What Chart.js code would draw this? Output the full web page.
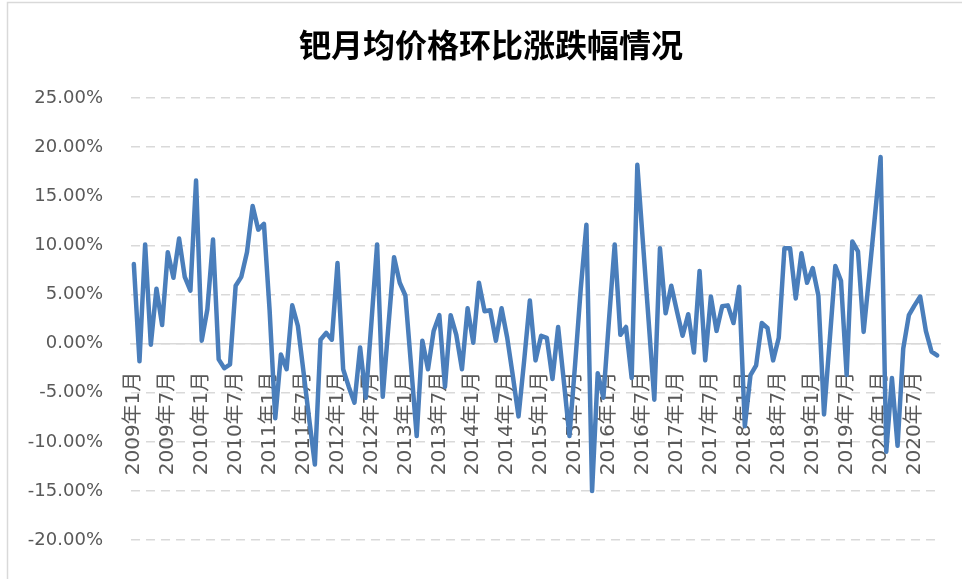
<!DOCTYPE html>
<html lang="zh">

<head>
    <meta charset="UTF-8">
    <title>钯月均价格环比涨跌幅情况</title>
    <script src="https://cdn.jsdelivr.net/npm/chart.js"></script>
    <style>
        body { margin: 0; background: #fff; }
        #wrap { width: 962px; height: 579px; }
    </style>
</head>

<body>
    <div id="wrap">
        <canvas id="myChart" width="962" height="579"></canvas>
    </div>

    <script>
        // 月环比涨跌幅 (%), 每年一组, 2009年1月 - 2020年11月
        const v2009 = [8.1, -1.8, 10.1, -0.1, 5.6, 1.9, 9.3, 6.7, 10.7, 6.8, 5.4, 16.6];
        const v2010 = [0.3, 3.5, 10.6, -1.6, -2.5, -2.1, 5.9, 6.8, 9.3, 14.0, 11.6, 12.2];
        const v2011 = [3.4, -7.6, -1.1, -2.6, 3.9, 1.8, -2.9, -7.7, -12.3, 0.4, 1.1, 0.4];
        const v2012 = [8.2, -2.6, -4.4, -6.0, -0.4, -5.5, 2.2, 10.1, -5.4, 1.8, 8.8, 6.2];
        const v2013 = [4.9, -2.2, -9.4, 0.3, -2.6, 1.3, 2.9, -4.4, 2.9, 0.9, -2.6, 3.6];
        const v2014 = [0.1, 6.2, 3.3, 3.4, 0.3, 3.6, 0.6, -3.3, -7.4, -1.7, 4.4, -1.7];
        const v2015 = [0.8, 0.6, -3.6, 1.7, -3.8, -9.4, -2.1, 5.6, 12.1, -15.0, -3.0, -5.5];
        const v2016 = [2.5, 10.1, 0.9, 1.7, -3.5, 18.2, 10.2, 2.3, -5.7, 9.7, 3.1, 5.9];
        const v2017 = [3.3, 0.8, 3.0, -0.9, 7.4, -1.7, 4.8, 1.3, 3.8, 3.9, 2.1, 5.8];
        const v2018 = [-8.4, -3.2, -2.2, 2.1, 1.6, -1.7, 0.6, 9.7, 9.7, 4.6, 9.2, 6.2];
        const v2019 = [7.7, 4.9, -7.2, 0.3, 7.9, 6.4, -3.2, 10.4, 9.4, 1.2, 7.0, 13.0];
        const v2020 = [19.0, -11.0, -3.5, -10.4, -0.5, 2.9, 3.9, 4.8, 1.3, -0.8, -1.2];

        const years = [2009, 2010, 2011, 2012, 2013, 2014, 2015, 2016, 2017, 2018, 2019, 2020];
        const yearValues = [v2009, v2010, v2011, v2012, v2013, v2014, v2015, v2016, v2017, v2018, v2019, v2020];

        const titleText = '钯月均价格环比涨跌幅情况';

        // category labels: 2009年1月 ...
        const labels = [];
        const values = [];
        years.forEach((y, k) => {
            yearValues[k].forEach((v, m) => {
                labels.push(y + '年' + (m + 1) + '月');
                values.push(v);
            });
        });

        const yTicks = { min: -20, max: 25, step: 5 };

        // white background, light frame and the title (centred like the original)
        const frame = {
            id: 'frame',
            beforeDraw(chart) {
                const ctx = chart.ctx;
                ctx.save();
                ctx.fillStyle = '#fff';
                ctx.fillRect(0, 0, chart.width, chart.height);
                ctx.strokeStyle = '#d9d9d9';
                ctx.lineWidth = 1.5;
                ctx.strokeRect(7.5, 2.5, chart.width + 10, chart.height + 10);

                ctx.fillStyle = '#000';
                ctx.font = 'bold 32px "Noto Sans CJK SC"';
                ctx.textAlign = 'center';
                ctx.textBaseline = 'middle';
                ctx.fillText(titleText, 491, 45);
                ctx.restore();
            }
        };

        new Chart(document.getElementById('myChart'), {
            type: 'line',
            data: {
                labels: labels,
                datasets: [{
                    data: values,
                    borderColor: '#4a7ebb',
                    borderWidth: 4.5,
                    borderJoinStyle: 'round',
                    borderCapStyle: 'round',
                    pointRadius: 0,
                    tension: 0,
                    fill: false
                }]
            },
            options: {
                responsive: false,
                animation: false,
                layout: {
                    padding: { top: 98, left: 0, right: 22, bottom: 29 }
                },
                plugins: {
                    legend: { display: false },
                    tooltip: { enabled: false },
                    title: { display: false }
                },
                scales: {
                    x: {
                        type: 'category',
                        offset: true,
                        position: { y: 0 },
                        afterFit: function (scale) {
                            scale.paddingLeft = 0;
                            scale.paddingRight = 0;
                        },
                        grid: { display: false, drawTicks: false },
                        border: { display: true, color: '#d9d9d9', width: 1.5 },
                        ticks: {
                            autoSkip: false,
                            maxRotation: 90,
                            minRotation: 90,
                            padding: 28,
                            color: '#595959',
                            font: { family: '"DejaVu Sans", "Noto Sans CJK SC"', size: 20 },
                            callback: function (val, i) {
                                return i % 6 === 0 ? labels[i] : '';
                            }
                        }
                    },
                    y: {
                        min: yTicks.min,
                        max: yTicks.max,
                        afterFit: function (scale) { scale.width = 131; },
                        grid: { color: '#d9d9d9', lineWidth: 1.5, drawTicks: false },
                        border: { display: false, dash: [9, 6] },
                        ticks: {
                            stepSize: yTicks.step,
                            padding: 28,
                            color: '#595959',
                            font: { family: '"DejaVu Sans"', size: 18 },
                            callback: function (v) { return v.toFixed(2) + '%'; }
                        }
                    }
                }
            },
            plugins: [frame]
        });
    </script>
</body>

</html>
